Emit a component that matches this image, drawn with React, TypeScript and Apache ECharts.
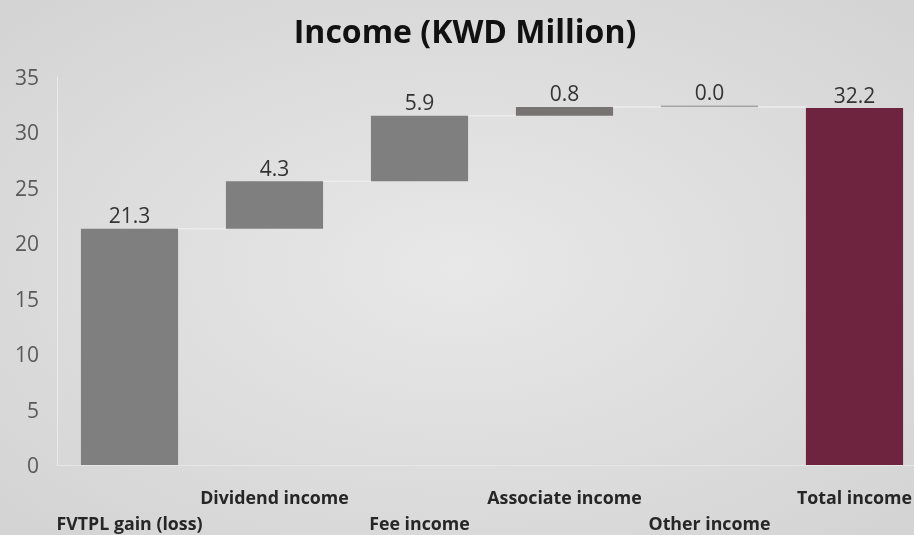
import React, { useEffect, useRef } from "react";
import * as echarts from "echarts";

const categories = ["FVTPL gain (loss)", "Dividend income", "Fee income", "Associate income", "Other income", "Total income"];
const values = [21.3, 4.3, 5.9, 0.8, 0.0, 32.2];
const yTicks = [0, 5, 10, 15, 20, 25, 30, 35];
const barColors = ["#7f7f7f", "#7f7f7f", "#7f7f7f", "#787373", "#a5a5a5", "#6e233f"];

export default function App() {
  const ref = useRef<HTMLDivElement>(null);
  useEffect(() => {
    if (!ref.current) return;
    const chart = echarts.init(ref.current, null, { renderer: "svg" });
    const last = values.length - 1;
    const bases: number[] = [];
    let run = 0;
    values.forEach((v, i) => {
      if (i === last) bases.push(0);
      else {
        bases.push(Number(run.toFixed(1)));
        run += v;
      }
    });
    const tops = values.map((v, i) => Number((bases[i] + v).toFixed(1)));
    const connectors = tops.slice(0, last).map((t, i) => [i, t]);
    const font = "'Open Sans', sans-serif";
    chart.setOption({
      animation: false,
      backgroundColor: {
        type: "radial",
        x: 0.5,
        y: 0.5,
        r: 0.75,
        colorStops: [
          { offset: 0, color: "#e8e8e8" },
          { offset: 1, color: "#d2d2d2" },
        ],
      },
      title: {
        text: "Income (KWD Million)",
        left: 460,
        top: 9,
        textAlign: "center",
        textStyle: { fontFamily: font, fontSize: 32, fontWeight: "bold", color: "#111111" },
      },
      grid: { left: 57, right: -13, top: 77, bottom: 70, containLabel: false, outerBoundsMode: "none" },
      xAxis: {
        type: "category",
        data: categories,
        axisLine: { show: true, lineStyle: { color: "#e6e6e6", width: 1 } },
        axisTick: { show: false },
        axisLabel: {
          interval: 0,
          margin: 19,
          fontFamily: font,
          fontSize: 17.8,
          fontWeight: "bold",
          color: "#262626",
          lineHeight: 26,
          hideOverlap: false,
          formatter: (v: string, i: number) => (i % 2 === 0 ? "\n" + v : v),
        },
      },
      yAxis: {
        type: "value",
        min: yTicks[0],
        max: yTicks[yTicks.length - 1],
        interval: 5,
        axisLine: { show: true, lineStyle: { color: "#ebebeb", width: 1 } },
        axisTick: { show: false },
        splitLine: { show: false },
        axisLabel: { fontFamily: font, fontSize: 21, color: "#595959", margin: 18 },
      },
      series: [
        {
          type: "bar",
          stack: "w",
          data: bases,
          barWidth: "67%",
          itemStyle: { color: "transparent" },
          silent: true,
        },
        {
          type: "bar",
          stack: "w",
          barWidth: "67%",
          barMinHeight: 1.5,
          data: values.map((v, i) => ({ value: v, itemStyle: { color: barColors[i] } })),
          label: {
            show: true,
            position: "top",
            distance: 3,
            fontFamily: font,
            fontSize: 21,
            color: "#333333",
            formatter: (p: any) => Number(p.value).toFixed(1),
          },
        },
        {
          type: "custom",
          data: connectors,
          renderItem: (params: any, api: any) => {
            const i = api.value(0);
            const y = api.value(1);
            const p1 = api.coord([i, y]);
            const p2 = api.coord([i + 1, y]);
            const w = api.size([1, 0])[0] * 0.67;
            return {
              type: "line",
              shape: { x1: p1[0] + w / 2, y1: p1[1], x2: p2[0] - w / 2, y2: p2[1] },
              style: { stroke: "#ececec", lineWidth: 1.5 },
            };
          },
          z: 1,
        },
      ],
    });
    return () => chart.dispose();
  }, []);
  return <div ref={ref} style={{ position: "fixed", left: 0, top: 0, width: 914, height: 535 }} />;
}
